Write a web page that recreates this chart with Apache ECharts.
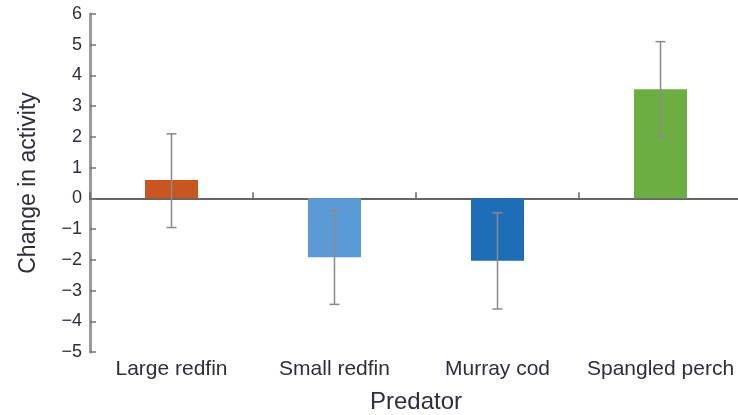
<!DOCTYPE html>
<html><head><meta charset="utf-8">
<script src="https://cdn.jsdelivr.net/npm/echarts@6/dist/echarts.min.js"></script>
<style>html,body{margin:0;padding:0;background:#fff}#c{width:738px;height:415px}</style>
</head><body><div id="c"></div>
<script>
var categories = ['Large redfin', 'Small redfin', 'Murray cod', 'Spangled perch'];
var means = [0.6, -1.92, -2.03, 3.55];
var errLow = [-0.95, -3.45, -3.6, 2.0];
var errHigh = [2.1, -0.38, -0.47, 5.1];
var barColors = ['#C8561E', '#5B9BD5', '#1E6DB7', '#6DAE42'];
var yTicks = {min: -5, max: 6, interval: 1};

var chart = echarts.init(document.getElementById('c'));
var font = 'Liberation Sans, Arial, sans-serif';
var txt = '#2e2e3c';
chart.setOption({
  animation: false,
  grid: {left: 90, right: -4, top: 14, bottom: 63, containLabel: false, outerBoundsMode: 'none'},
  xAxis: [{
    type: 'category', data: categories, position: 'bottom',
    axisLine: {show: false, onZero: false}, axisTick: {show: false},
    axisLabel: {color: txt, fontSize: 21, fontFamily: font, margin: 7, interval: 0, hideOverlap: false},
    name: 'Predator', nameLocation: 'middle', nameGap: 38,
    nameTextStyle: {color: txt, fontSize: 24, fontFamily: font}
  }, {
    type: 'category', data: categories, position: 'bottom',
    axisLine: {show: true, onZero: true, lineStyle: {color: '#333', width: 1.5}},
    axisTick: {show: true, inside: true, length: 6, lineStyle: {color: '#666', width: 1.5}},
    axisLabel: {show: false}
  }],
  yAxis: {
    type: 'value', min: yTicks.min, max: yTicks.max, interval: yTicks.interval,
    splitLine: {show: false},
    axisLine: {show: true, lineStyle: {color: '#9a9a9a', width: 3}},
    axisTick: {show: true, inside: true, length: 6, lineStyle: {color: '#777', width: 1.5}},
    axisLabel: {color: txt, fontSize: 18, fontFamily: font, margin: 8,
      formatter: function (v) { return String(v).replace('-', '\u2212'); }},
    name: 'Change in activity', nameLocation: 'middle', nameGap: 50,
    nameTextStyle: {color: txt, fontSize: 23, fontFamily: font}
  },
  series: [{
    type: 'bar', xAxisIndex: 0, barWidth: 53,
    data: means.map(function (v, i) { return {value: v, itemStyle: {color: barColors[i]}}; }),
    z: 2
  }, {
    type: 'custom', xAxisIndex: 0, z: 3,
    data: categories.map(function (c, i) { return [i, errLow[i], errHigh[i]]; }),
    renderItem: function (params, api) {
      var x = api.value(0);
      var lo = api.coord([x, api.value(1)]);
      var hi = api.coord([x, api.value(2)]);
      var w = 5;
      var st = {stroke: '#8a8a8a', lineWidth: 1.5};
      return {type: 'group', children: [
        {type: 'line', shape: {x1: lo[0], y1: lo[1], x2: hi[0], y2: hi[1]}, style: st},
        {type: 'line', shape: {x1: lo[0] - w, y1: lo[1], x2: lo[0] + w, y2: lo[1]}, style: st},
        {type: 'line', shape: {x1: hi[0] - w, y1: hi[1], x2: hi[0] + w, y2: hi[1]}, style: st}
      ]};
    }
  }]
});
</script></body></html>
